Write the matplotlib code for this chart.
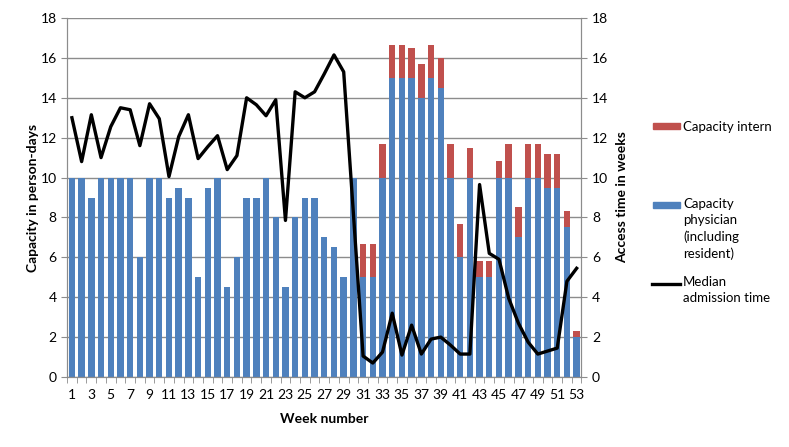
import numpy as np
import matplotlib
matplotlib.use("Agg")
import matplotlib.pyplot as plt
from matplotlib.patches import Rectangle
from matplotlib.lines import Line2D

plt.rcParams['font.family'] = ['Lato', 'DejaVu Sans']

# ---------------------------------------------------------------------------
# Data
# ---------------------------------------------------------------------------
weeks = list(range(1, 54))

physician = [10, 10, 9, 10, 10, 10, 10, 6, 10, 10,
             9, 9.5, 9, 5, 9.5, 10, 4.5, 6, 9, 9,
             10, 8, 4.5, 8, 9, 9, 7, 6.5, 5, 10,
             5, 5, 10, 15, 15, 15, 14, 15, 14.5, 10,
             6, 10, 5, 5, 10, 10, 7, 10, 10, 9.5,
             9.5, 7.5, 2]

intern = [0] * 30 + [1.67, 1.67, 1.67, 1.67, 1.67, 1.5, 1.67, 1.67, 1.5, 1.67,
                     1.67, 1.5, 0.83, 0.83, 0.83, 1.67, 1.5, 1.67, 1.67, 1.67,
                     1.67, 0.83, 0.33]

median_time = [13.0, 10.8, 13.15, 11.0, 12.55, 13.5, 13.4, 11.6, 13.7, 12.95,
               10.05, 12.05, 13.15, 10.95, 11.55, 12.1, 10.4, 11.1, 14.0, 13.65,
               13.1, 13.9, 7.85, 14.3, 14.0, 14.3, 15.2, 16.15, 15.3, 8.2,
               1.05, 0.7, 1.25, 3.2, 1.1, 2.6, 1.15, 1.9, 2.0, 1.6,
               1.15, 1.15, 9.65, 6.2, 5.9, 3.95, 2.7, 1.75, 1.15, 1.3,
               1.45, 4.8, 5.45]

blue = '#4F81BD'
red = '#C0504D'
grid_c = '#8C8C8C'

#-----------------------------------------------------------------------------
# Plot
#-----------------------------------------------------------------------------
fig = plt.figure(figsize=(7.89, 4.47), dpi=100)
ax = fig.add_axes([0.085, 0.1566, 0.652, 0.8031])

ax.bar(weeks, physician, width=0.66, color=blue, zorder=2)
ax.bar(weeks, intern, width=0.66, bottom=physician, color=red, zorder=2)

ax.set_xlim(0.5, 53.5)
ax.set_ylim(0, 18)
ax.set_yticks(range(0, 19, 2))
ax.yaxis.grid(True, color=grid_c, linewidth=1.0, zorder=0)
ax.set_axisbelow(True)

ax.set_xticks(weeks[::2])
ax.set_xticks(np.arange(0.5, 54, 1), minor=True)
ax.tick_params(axis='x', which='major', length=0, pad=9, labelsize=10)
ax.tick_params(axis='x', which='minor', length=4, color=grid_c, direction='out')
ax.tick_params(axis='y', length=4, color=grid_c, labelsize=10)

for s in ['top']:
    ax.spines[s].set_visible(False)
for s in ['left', 'right', 'bottom']:
    ax.spines[s].set_color(grid_c)

ax.set_xlabel('Week number', fontweight='bold', fontsize=10, labelpad=8)
ax.set_ylabel('Capacity in person-days', fontweight='bold', fontsize=10, labelpad=1)

ax2 = ax.twinx()
ax2.plot(weeks, median_time, color='black', linewidth=2.4, zorder=3)
ax2.set_ylim(0, 18)
ax2.set_yticks(range(0, 19, 2))
ax2.tick_params(axis='y', length=4, color=grid_c, labelsize=10)
ax2.spines['top'].set_visible(False)
for s in ['left', 'right', 'bottom']:
    ax2.spines[s].set_color(grid_c)
ax2.set_ylabel('Access time in weeks', fontweight='bold', fontsize=10, labelpad=6)

# legend drawn by hand to follow the spacing of the original
W, H = 789, 447
def fx(px):
    return px / W
def fy(py):
    return 1 - py / H

fig.patches.append(Rectangle((fx(653), fy(129)), fx(27), 6 / H, color=red,
                             transform=fig.transFigure))
fig.text(fx(683), fy(127), 'Capacity intern', fontsize=9.5, va='center')

fig.patches.append(Rectangle((fx(653), fy(208)), fx(27), 6 / H, color=blue,
                             transform=fig.transFigure))
fig.text(fx(683), fy(198), 'Capacity\nphysician\n(including\nresident)', fontsize=9.5,
         va='top', linespacing=1.42)

fig.lines.append(Line2D([fx(652), fx(680)], [fy(284), fy(284)], color='black',
                        linewidth=2.4, transform=fig.transFigure))
fig.text(fx(683), fy(276), 'Median\nadmission time', fontsize=9.5, va='top',
         linespacing=1.42)

fig.savefig('out.png', dpi=100)
